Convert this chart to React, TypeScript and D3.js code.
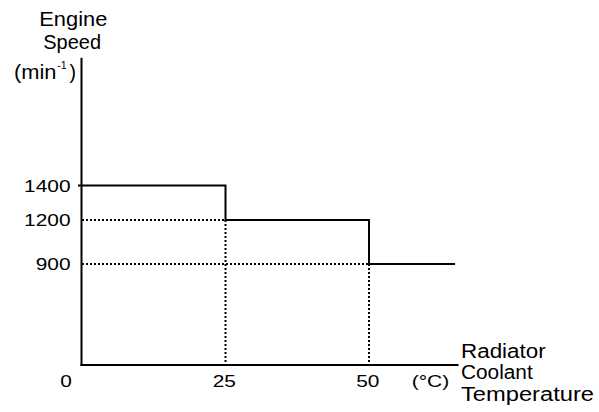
import React from "react";
import * as d3 from "d3";

// ---- data ----
const tempBreaks = [0, 25, 50, 65]; // °C where the idle speed changes, last = end of line
const speedLevels = [1400, 1200, 900, 900]; // min^-1 for each segment
const yTicks = [1400, 1200, 900];
const xTicks = [0, 25, 50];
const xAxisMax = 65.6;
const yAxisMax = 2140;

const W = 599;
const H = 412;
const FONT = "'Liberation Sans', Arial, Helvetica, sans-serif";

export default function App() {
  const x = d3.scaleLinear().domain([0, 50]).range([82, 369]);
  const y = d3.scaleLinear().domain([0, 900, 1200, 1400]).range([365, 264, 220, 185.5]);

  const pts: [number, number][] = tempBreaks.map((t, i) => [t, speedLevels[i]]);
  const step = d3
    .line<[number, number]>()
    .x((d) => x(d[0]))
    .y((d) => y(d[1]))
    .curve(d3.curveStepAfter)(pts) as string;

  // dotted guides
  const guides: { x1: number; y1: number; x2: number; y2: number }[] = [];
  for (let i = 1; i < tempBreaks.length - 1; i++) {
    const v = speedLevels[i];
    guides.push({ x1: x(0), y1: y(v), x2: x(tempBreaks[i]), y2: y(v) });
    guides.push({ x1: x(tempBreaks[i]), y1: y(v), x2: x(tempBreaks[i]), y2: y(0) });
  }

  const digitW = 11.6;

  return (
    <svg
      width={W}
      height={H}
      style={{ position: "absolute", left: 0, top: 0, background: "#fff" }}
      fontFamily={FONT}
    >
      <rect width={W} height={H} fill="#fff" />
      {/* guides */}
      {guides.map((g, i) => (
        <line
          key={i}
          x1={g.x1}
          y1={g.y1}
          x2={g.x2}
          y2={g.y2}
          stroke="#000"
          strokeWidth={2}
          strokeDasharray="2,2"
        />
      ))}
      {/* axes */}
      <line x1={x(0) - 0.5} y1={y(yAxisMax)} x2={x(0) - 0.5} y2={y(0) + 1} stroke="#000" strokeWidth={2} />
      <line x1={x(0) - 1.5} y1={y(0)} x2={x(xAxisMax)} y2={y(0)} stroke="#000" strokeWidth={2} />
      {/* step line */}
      <path d={step} fill="none" stroke="#000" strokeWidth={2} />
      <line x1={x(0) - 4} y1={y(1400)} x2={x(0)} y2={y(1400)} stroke="#000" strokeWidth={2} />

      {/* y tick labels */}
      {yTicks.map((v) => {
        const s = String(v);
        return (
          <text
            key={v}
            x={70.5}
            y={y(v) + 6}
            fontSize={17}
            textAnchor="end"
            textLength={s.length * digitW}
            lengthAdjust="spacingAndGlyphs"
          >
            {s}
          </text>
        );
      })}
      {/* x tick labels */}
      {xTicks.map((v) => {
        const s = String(v);
        const cx = v === 0 ? x(v) - 16 : x(v) - 1.2;
        return (
          <text
            key={v}
            x={cx - (s.length * digitW) / 2}
            y={386.5}
            fontSize={17}
            textLength={s.length * digitW}
            lengthAdjust="spacingAndGlyphs"
          >
            {s}
          </text>
        );
      })}
      <text x={411.7} y={386.5} fontSize={17} textLength={37.6} lengthAdjust="spacingAndGlyphs">
        (°C)
      </text>

      {/* y title */}
      <text x={39.3} y={26} fontSize={20} textLength={68} lengthAdjust="spacingAndGlyphs">
        Engine
      </text>
      <text x={43.3} y={49.3} fontSize={20} textLength={57.7} lengthAdjust="spacingAndGlyphs">
        Speed
      </text>
      <text x={14} y={79.3} fontSize={20} textLength={42.5} lengthAdjust="spacingAndGlyphs">
        (min
      </text>
      <text x={57.3} y={68.5} fontSize={11} textLength={9.4} lengthAdjust="spacingAndGlyphs">
        -1
      </text>
      <text x={69.5} y={79.3} fontSize={20} textLength={6.5} lengthAdjust="spacingAndGlyphs">
        )
      </text>

      {/* x title */}
      <text x={461} y={358.3} fontSize={20} textLength={84.7} lengthAdjust="spacingAndGlyphs">
        Radiator
      </text>
      <text x={461} y={379.3} fontSize={20} textLength={71.7} lengthAdjust="spacingAndGlyphs">
        Coolant
      </text>
      <text x={461} y={401} fontSize={20} textLength={133} lengthAdjust="spacingAndGlyphs">
        Temperature
      </text>
    </svg>
  );
}
